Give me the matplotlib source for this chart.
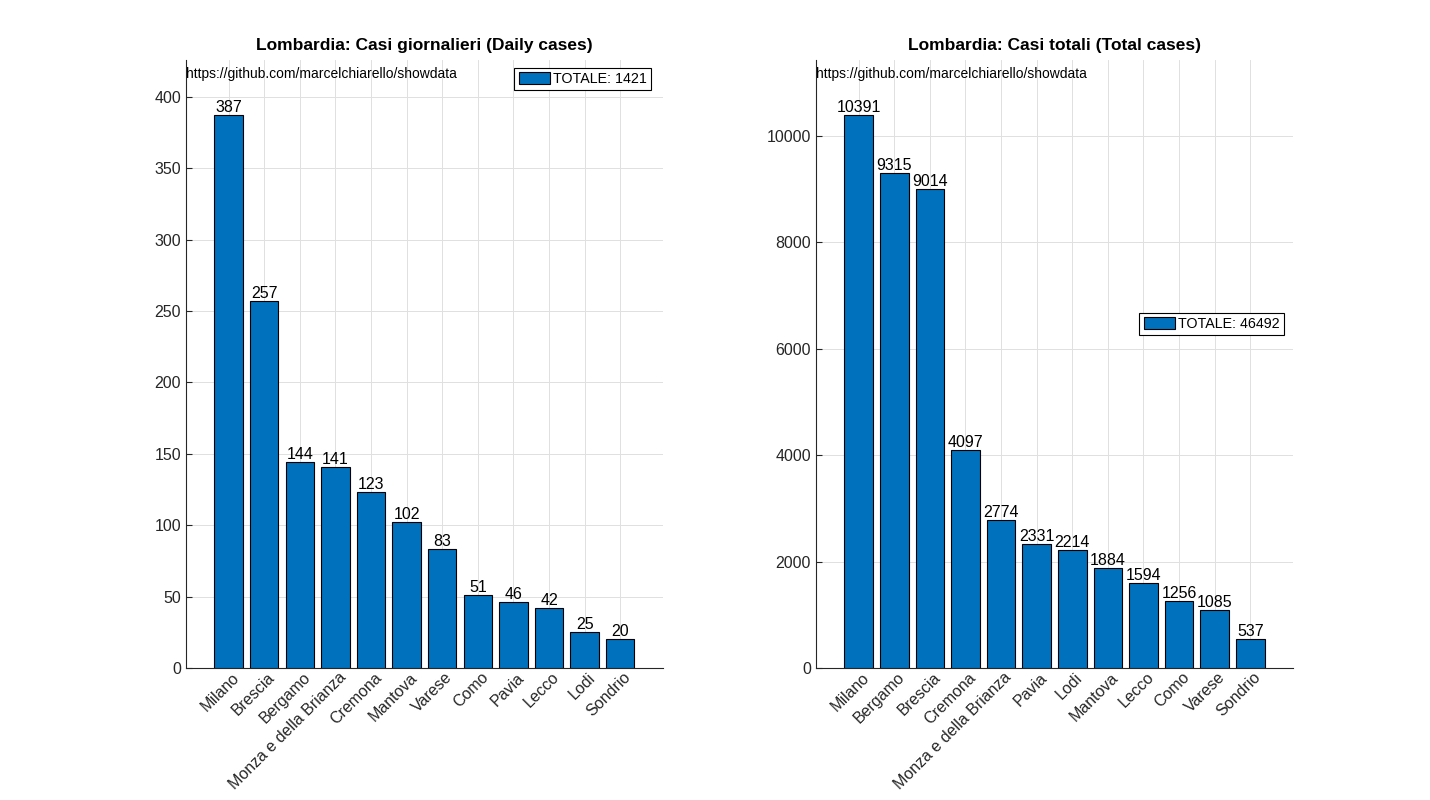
import numpy as np
import matplotlib
matplotlib.use("Agg")
import matplotlib.pyplot as plt
import matplotlib.transforms as mtransforms

# dati giornalieri
daily_names = ["Milano", "Brescia", "Bergamo", "Monza e della Brianza", "Cremona",
               "Mantova", "Varese", "Como", "Pavia", "Lecco", "Lodi", "Sondrio"]
daily_values = [387, 257, 144, 141, 123, 102, 83, 51, 46, 42, 25, 20]

# dati totali
total_names = ["Milano", "Bergamo", "Brescia", "Cremona", "Monza e della Brianza",
               "Pavia", "Lodi", "Mantova", "Lecco", "Como", "Varese", "Sondrio"]
total_values = [10391, 9315, 9014, 4097, 2774, 2331, 2214, 1884, 1594, 1256, 1085, 537]

url = "https://github.com/marcelchiarello/showdata"
bar_color = "#0072BD"

plt.rcParams["font.family"] = ["Liberation Sans", "DejaVu Sans"]


def draw_panel(fig, ax, names, values, title, legend_loc, legend_anchor):
    x = np.arange(1, len(values) + 1)
    bars = ax.bar(x, values, width=0.8, color=bar_color, edgecolor="black",
                  linewidth=0.8, label=f"TOTALE: {sum(values)}", zorder=3)
    for b, v in zip(bars, values):
        ax.text(b.get_x() + b.get_width() / 2, v, str(v), ha="center",
                va="bottom", fontsize=11.5, zorder=4)
    ax.set_xlim(-0.2, len(values) + 1.2)
    ax.set_ylim(0, max(values) * 1.1)
    ax.set_xticks(x)
    ax.tick_params(axis="x", pad=8)
    ax.tick_params(axis="y", labelsize=11.5, labelcolor="#262626")
    ax.tick_params(direction="in", length=4, color="#262626")
    ax.set_xticklabels(names, rotation=45, ha="right", va="center",
                       rotation_mode="anchor", fontsize=11.5, color="#262626")
    # sposta le etichette (dopo tick_params, che altrimenti resetta il transform)
    offset = mtransforms.ScaledTranslation(0.08, 0.04, fig.dpi_scale_trans)
    for lab in ax.get_xticklabels():
        lab.set_transform(lab.get_transform() + offset)
    ax.spines["top"].set_visible(False)
    ax.spines["right"].set_visible(False)
    ax.spines["left"].set_color("#262626")
    ax.spines["bottom"].set_color("#262626")
    ax.grid(True, color="#e0e0e0", linewidth=0.7, zorder=0)
    ax.set_axisbelow(True)
    ax.set_title(title, fontsize=12.5, fontweight="bold", pad=7)
    ax.text(0.0, 0.988, url, transform=ax.transAxes, ha="left", va="top",
            fontsize=10.0)
    leg = ax.legend(loc=legend_loc, bbox_to_anchor=legend_anchor, fontsize=10.3,
                    fancybox=False, framealpha=1, edgecolor="black",
                    handlelength=2.2, handleheight=0.9, borderpad=0.3,
                    handletextpad=0.2, borderaxespad=0)
    leg.get_frame().set_linewidth(0.8)


fig = plt.figure(figsize=(14.3, 8), dpi=100)
ax1 = fig.add_axes([0.130, 0.165, 0.3336, 0.76])
ax2 = fig.add_axes([0.5706, 0.165, 0.3336, 0.76])

draw_panel(fig, ax1, daily_names, daily_values,
           "Lombardia: Casi giornalieri (Daily cases)",
           "upper right", (0.975, 0.987))
draw_panel(fig, ax2, total_names, total_values,
           "Lombardia: Casi totali (Total cases)",
           "center right", (0.981, 0.566))

fig.savefig("out.png", dpi=100)
